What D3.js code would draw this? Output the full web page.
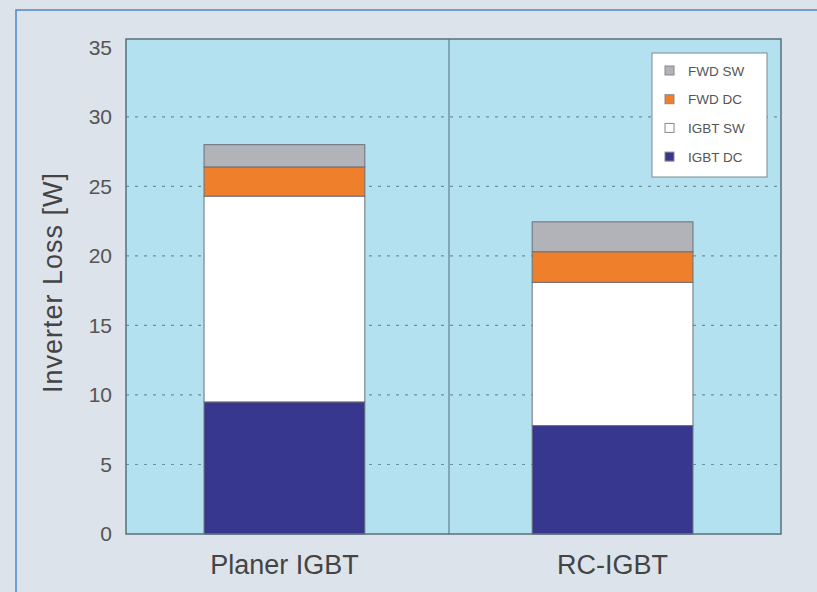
<!DOCTYPE html>
<html>
<head>
<meta charset="utf-8">
<script src="https://cdn.jsdelivr.net/npm/d3@7"></script>
<style>
  body { margin: 0; background: #dde3ea; }
  svg { display: block; font-family: 'Liberation Sans', Arial, sans-serif; }
</style>
</head>
<body>
<div id="chart"></div>
<script>
// data
const categories = ['Planer IGBT', 'RC-IGBT']
const series = ['IGBT DC', 'IGBT SW', 'FWD DC', 'FWD SW']
const igbtDC = [9.5, 7.8]
const igbtSW = [14.8, 10.3]
const fwdDC = [2.1, 2.2]
const fwdSW = [1.6, 2.15]
const yTicks = [0, 5, 10, 15, 20, 25, 30, 35]
const colors = ['#37378f', '#ffffff', '#ef7f2b', '#b1b3b9']

const width = 817,
  height = 592
const plot = { left: 126, right: 781, top: 39, bottom: 534 }

let svg = d3.select('#chart')
  .append('svg')
  .attr('width', width)
  .attr('height', height)

// outer blue frame
svg.append('rect')
  .attr('x', 16).attr('y', 10)
  .attr('width', width).attr('height', height)
  .attr('fill', '#dde3ea')
  .attr('stroke', '#4d84cc')
  .attr('stroke-width', 1.5)

const x = d3.scaleBand()
  .domain(categories)
  .range([plot.left - 4, plot.right - 6])
  .paddingInner(0.51)
  .paddingOuter(0.25)

const y = d3.scaleLinear()
  .domain([0, 35.6])
  .range([plot.bottom, plot.top])

// plot background
svg.append('rect')
  .attr('x', plot.left).attr('y', plot.top)
  .attr('width', plot.right - plot.left)
  .attr('height', plot.bottom - plot.top)
  .attr('fill', '#b3e1ef')

// dashed gridlines
svg.append('g')
  .selectAll('line')
  .data(yTicks.filter(t => t > 0 && t < 35))
  .enter()
  .append('line')
  .attr('x1', plot.left).attr('x2', plot.right)
  .attr('y1', d => y(d)).attr('y2', d => y(d))
  .attr('stroke', '#6f8f9c')
  .attr('stroke-width', 1.2)
  .attr('stroke-dasharray', '3,6')

// divider between categories
svg.append('line')
  .attr('x1', 449).attr('x2', 449)
  .attr('y1', plot.top).attr('y2', plot.bottom)
  .attr('stroke', '#4f6f7c')
  .attr('stroke-width', 1)

// stacked bars
const table = categories.map((c, i) => ({
  cat: c,
  'IGBT DC': igbtDC[i],
  'IGBT SW': igbtSW[i],
  'FWD DC': fwdDC[i],
  'FWD SW': fwdSW[i]
}))
const stacked = d3.stack().keys(series)(table)

svg.append('g')
  .selectAll('g')
  .data(stacked)
  .enter()
  .append('g')
  .attr('fill', (d, i) => colors[i])
  .selectAll('rect')
  .data(d => d)
  .enter()
  .append('rect')
  .attr('x', d => x(d.data.cat))
  .attr('width', x.bandwidth())
  .attr('y', d => y(d[1]))
  .attr('height', d => y(d[0]) - y(d[1]))
  .attr('stroke', '#6b6f78')
  .attr('stroke-width', 1)

// plot frame
svg.append('rect')
  .attr('x', plot.left).attr('y', plot.top)
  .attr('width', plot.right - plot.left)
  .attr('height', plot.bottom - plot.top)
  .attr('fill', 'none')
  .attr('stroke', '#55707c')
  .attr('stroke-width', 1.5)

// y axis labels
const yAxis = d3.axisLeft(y).tickValues(yTicks).tickSize(0).tickPadding(14)
let yAxisGroup = svg.append('g')
  .attr('transform', `translate(${plot.left}, 0)`)
  .call(yAxis)
yAxisGroup.select('.domain').remove()
yAxisGroup.selectAll('text')
  .attr('font-size', 21)
  .attr('fill', '#555')
  .attr('font-family', 'Liberation Sans, Arial, sans-serif')

// x axis labels
const xAxis = d3.axisBottom(x).tickSize(0).tickPadding(21)
let xAxisGroup = svg.append('g')
  .attr('transform', `translate(0, ${plot.bottom})`)
  .call(xAxis)
xAxisGroup.select('.domain').remove()
xAxisGroup.selectAll('text')
  .attr('font-size', 27)
  .attr('fill', '#444')
  .attr('font-family', 'Liberation Sans, Arial, sans-serif')

// y title
svg.append('text')
  .attr('transform', `translate(62, ${(plot.top + plot.bottom) / 2 - 4}) rotate(-90)`)
  .attr('text-anchor', 'middle')
  .attr('font-size', 27)
  .attr('letter-spacing', 1)
  .attr('fill', '#444')
  .text('Inverter Loss [W]')

// legend
const legend = svg.append('g').attr('transform', 'translate(652, 53)')
legend.append('rect')
  .attr('width', 115).attr('height', 124)
  .attr('fill', '#ffffff')
  .attr('stroke', '#7a8a94')
  .attr('stroke-width', 1)
const legendKeys = series.slice().reverse()
legendKeys.forEach((k, i) => {
  const ci = series.indexOf(k)
  const row = legend.append('g').attr('transform', `translate(13, ${18 + i * 28.7})`)
  row.append('rect')
    .attr('x', 0).attr('y', -5)
    .attr('width', 9).attr('height', 9)
    .attr('fill', colors[ci])
    .attr('stroke', '#888')
    .attr('stroke-width', 1)
  row.append('text')
    .attr('x', 23).attr('y', 4.5)
    .attr('font-size', 13.5)
    .attr('fill', '#555')
    .text(k)
})
</script>
</body>
</html>
